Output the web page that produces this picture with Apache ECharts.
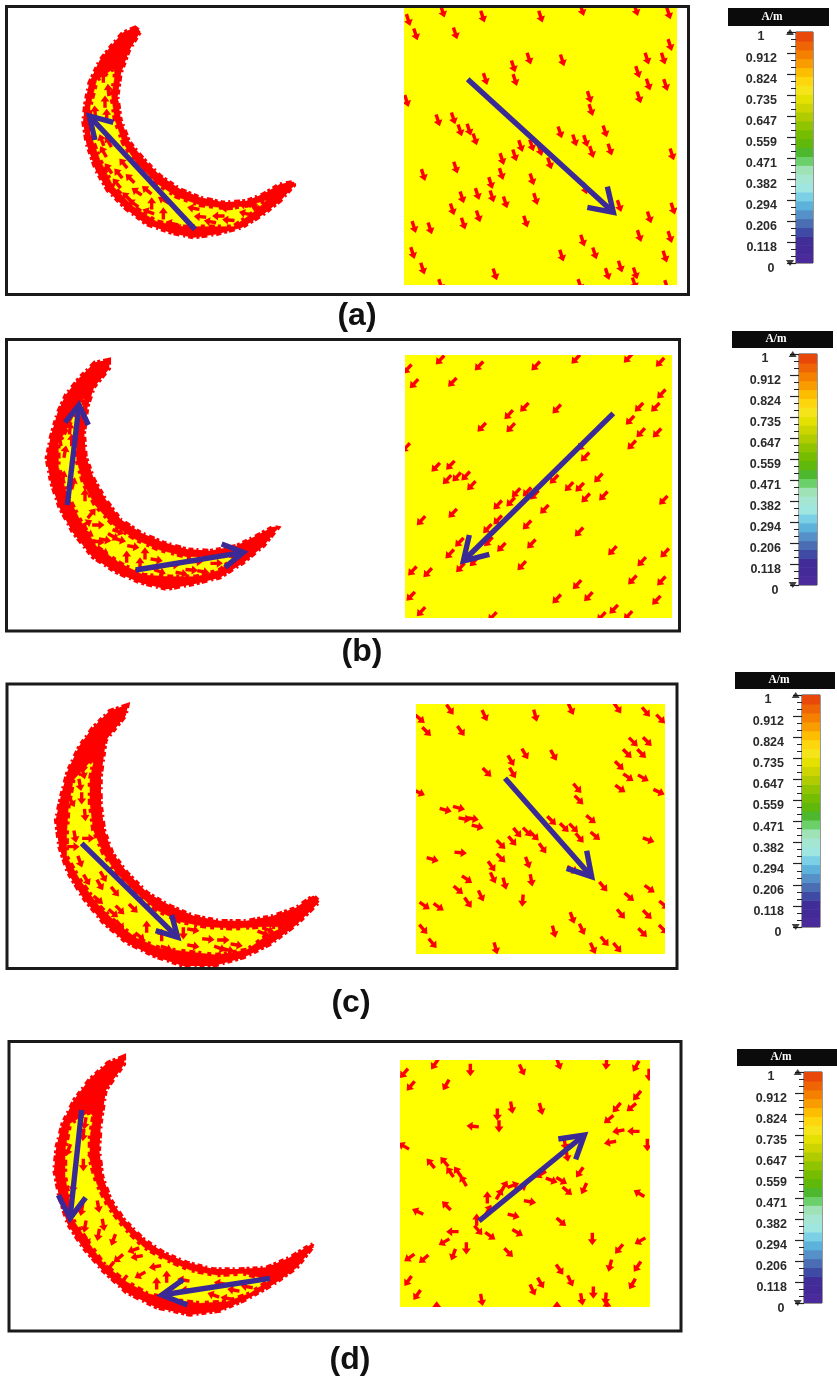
<!DOCTYPE html>
<html><head><meta charset="utf-8">
<style>html,body{margin:0;padding:0;background:#fff}#c{width:837px;height:1381px}</style>
<script src="https://cdn.jsdelivr.net/npm/echarts@6/dist/echarts.min.js"></script>
</head><body><div id="c"></div>
<script>
// ---------- data (units: reference pixels x3, relative to each panel's window) ----------
const headingA = 72, headingB = 133;
const fieldA = [[128,35],[248,50],[422,50],[546,30],[708,30],[806,40],[25,60],[47,103],[166,100],[810,135],[741,176],[790,176],[387,176],[487,181],[340,199],[713,216],[345,240],[256,237],[745,254],[797,255],[568,291],[717,292],[20,303],[573,330],[114,361],[160,355],[180,391],[207,389],[225,418],[480,397],[615,394],[524,421],[557,423],[575,456],[630,449],[362,438],[395,436],[420,450],[344,466],[306,477],[449,490],[816,463],[167,503],[304,522],[70,525],[396,538],[272,549],[232,582],[186,592],[276,589],[407,597],[316,607],[157,628],[658,618],[819,626],[235,649],[190,671],[377,665],[748,652],[42,681],[90,685],[718,708],[810,711],[548,722],[38,759],[485,767],[584,760],[795,770],[68,806],[661,800],[285,823],[706,820],[622,822],[122,855],[540,855],[703,850],[800,858],[555,565]];
const fieldB = [[120,45],[237,63],[407,63],[527,43],[684,40],[780,52],[22,72],[42,116],[157,112],[784,147],[373,187],[470,192],[717,187],[766,187],[326,209],[690,226],[245,247],[332,248],[722,263],[771,264],[695,300],[17,308],[545,302],[555,336],[107,367],[151,361],[141,404],[170,396],[197,393],[214,422],[462,403],[595,399],[507,425],[539,427],[557,459],[610,453],[348,443],[381,441],[403,450],[332,471],[293,480],[433,493],[790,466],[158,505],[293,525],[63,527],[381,540],[262,551],[178,592],[265,590],[394,597],[304,607],[149,627],[537,561],[637,617],[794,624],[222,650],[365,662],[181,668],[725,650],[37,678],[83,683],[697,705],[784,708],[531,719],[32,754],[470,762],[565,755],[769,766],[63,800],[641,793],[604,815],[684,812],[277,815]];
const fieldC = [[120,44,55],[224,62,65],[376,62,75],[483,43,65],[623,40,55],[708,51,50],[752,72,45],[30,72,40],[50,110,45],[153,108,55],[670,141,45],[712,140,45],[345,177,60],[431,181,60],[652,176,45],[695,176,45],[303,197,60],[628,212,45],[231,232,45],[308,234,60],[655,247,35],[700,249,30],[502,280,50],[631,281,35],[28,293,25],[747,291,25],[507,315,45],[107,345,15],[147,339,15],[164,372,10],[188,371,10],[203,395,15],[425,377,45],[543,373,40],[463,398,45],[491,399,45],[509,429,50],[556,423,40],[322,413,50],[352,411,45],[373,423,45],[307,438,50],[273,449,45],[398,460,55],[716,435,20],[152,473,5],[68,493,15],[273,489,45],[353,503,70],[245,514,55],[488,524,30],[249,549,65],[171,553,35],[284,566,75],[364,556,80],[145,585,40],[580,575,50],[658,606,40],[719,582,35],[213,603,65],[174,623,55],[338,617,95],[44,632,35],[86,636,35],[633,657,50],[712,659,45],[487,669,70],[40,703,50],[516,703,65],[698,713,45],[432,710,75],[760,703,45],[68,745,50],[257,760,75],[549,760,65],[584,739,50],[622,758,50],[762,630,40]];
const fieldD = [[119,43,125],[27,70,130],[226,60,90],[381,60,65],[491,42,70],[634,41,95],[723,49,120],[762,75,90],[47,108,130],[153,105,120],[726,137,130],[350,173,80],[438,177,75],[665,173,130],[709,172,140],[307,194,90],[641,208,140],[312,229,90],[233,229,185],[670,243,170],[715,244,180],[645,277,170],[26,288,210],[510,282,80],[516,317,80],[757,285,90],[107,340,230],[148,335,230],[554,367,125],[165,366,235],[188,365,235],[205,392,240],[437,373,150],[470,391,20],[500,392,30],[355,406,340],[328,408,300],[313,432,300],[277,442,270],[517,423,40],[567,416,115],[732,430,210],[380,413,330],[405,455,10],[154,467,225],[68,485,205],[280,480,300],[356,497,15],[499,516,40],[245,509,270],[250,541,50],[368,548,30],[172,545,180],[286,558,35],[147,576,150],[592,567,90],[735,573,150],[214,595,90],[672,597,130],[341,608,45],[175,614,110],[43,623,145],[86,627,140],[645,647,105],[727,650,125],[494,659,55],[526,693,65],[712,702,120],[39,693,125],[437,699,60],[413,720,65],[66,735,125],[260,750,80],[595,728,90],[560,748,80],[632,746,95],[125,772,270],[486,772,270],[636,770,270]];

const bigFieldA = [[203,238,640,637,622,560,562,622]];
const bigFieldB = [[640,205,190,648,208,570,268,628]];
const bigFieldC = [[285,250,545,545,530,467,470,520]];
const bigFieldD = [[252,513,568,255,490,267,542,328]];

const outlineA = [[405,85],[370,100],[335,140],[300,185],[270,250],[258,310],[252,365],[262,430],[290,510],[325,570],[380,625],[440,670],[510,695],[580,710],[650,700],[725,680],[790,640],[840,600],[880,555],[880,548],[840,555],[790,585],[740,605],[670,610],[600,595],[540,570],[480,530],[430,480],[385,425],[360,360],[350,290],[360,220],[385,150],[418,95]];
const coreA = [[342,205],[290,240],[270,320],[270,400],[300,480],[340,560],[400,620],[470,665],[550,680],[620,680],[700,680],[770,630],[800,600],[750,615],[680,625],[600,615],[530,590],[470,550],[410,490],[370,430],[345,360],[335,290],[345,225]];
const cellsA = [[310,230,270],[325,270,265],[315,305,270],[345,310,260],[285,335,265],[320,345,270],[305,420,250],[325,425,240],[310,455,240],[370,490,230],[325,505,235],[355,520,230],[390,535,225],[350,550,230],[410,575,215],[380,590,225],[400,610,215],[440,570,220],[445,635,200],[490,600,210],[515,670,195],[580,625,190],[600,650,185],[655,648,180],[685,660,185],[630,665,190],[735,640,195],[770,625,200],[490,640,270],[455,610,270],[540,685,200],[420,640,210],[680,625,180],[735,615,190]];
const bigCresA = [[585,688,268,348,340,367,285,420]];

const outlineB = [[235,32],[195,40],[150,85],[110,135],[85,190],[65,260],[52,325],[65,395],[90,470],[130,545],[190,620],[260,665],[330,695],[410,715],[490,700],[570,680],[640,635],[700,585],[740,535],[730,533],[680,560],[620,590],[540,605],[470,600],[400,580],[330,550],[270,510],[225,450],[190,390],[165,320],[160,250],[170,170],[190,110],[235,55]];
const coreB = [[155,145],[120,220],[85,280],[85,350],[110,430],[150,510],[200,590],[270,640],[340,675],[420,680],[500,680],[570,660],[620,615],[550,620],[470,620],[390,600],[320,570],[250,525],[195,465],[160,400],[140,330],[140,260],[150,200],[165,150]];
const cellsB = [[120,235,275],[125,270,270],[90,270,260],[105,305,280],[100,380,280],[130,400,285],[165,435,270],[120,490,300],[185,490,310],[170,520,330],[205,525,0],[140,530,320],[265,545,20],[250,560,30],[205,575,10],[225,570,10],[175,550,30],[270,570,15],[310,590,10],[245,630,20],[290,620,270],[330,640,270],[380,630,10],[345,610,270],[430,645,0],[485,660,5],[520,665,10],[560,640,0],[455,670,10],[390,665,20],[220,605,30],[500,635,0]];
const bigCresB = [[112,465,147,165,105,217,175,225],[317,660,640,607,575,582,585,652]];

const outlineC = [[260,18],[210,35],[160,85],[120,140],[85,215],[65,290],[50,360],[60,440],[85,515],[130,590],[190,665],[260,725],[340,765],[430,795],[520,795],[610,770],[690,730],[770,670],[835,605],[820,590],[770,625],[700,650],[620,665],[540,665],[460,650],[390,620],[320,580],[260,520],[215,460],[190,390],[180,310],[180,230],[195,120],[255,45]];
const coreC = [[155,180],[100,240],[85,320],[80,400],[80,470],[120,540],[170,610],[230,670],[290,715],[360,745],[440,755],[530,765],[620,750],[690,700],[735,680],[660,680],[580,685],[500,680],[420,665],[350,630],[290,580],[230,520],[190,460],[160,390],[150,310],[150,240],[160,190]];
const cellsC = [[130,220,75],[120,255,80],[125,295,90],[95,305,60],[135,345,85],[105,410,80],[100,440,0],[120,485,70],[145,415,0],[140,540,60],[190,530,60],[180,555,60],[225,575,50],[280,625,45],[240,630,45],[220,640,40],[240,675,50],[175,600,40],[300,710,40],[320,680,270],[380,745,20],[460,738,10],[505,718,5],[550,720,0],[565,750,15],[590,735,10],[460,690,10],[540,745,20],[365,705,270],[685,690,20],[430,700,90],[670,700,20]];
const bigCresC = [[125,430,413,712,395,645,347,692]];

const outlineD = [[250,22],[205,40],[150,90],[105,150],[70,220],[52,290],[45,360],[60,440],[85,520],[130,590],[190,660],[260,725],[350,770],[450,792],[540,780],[620,745],[700,700],[770,650],[820,585],[810,588],[750,625],[680,655],[600,660],[520,660],[440,640],[370,610],[310,570],[250,510],[210,450],[185,380],[175,300],[180,220],[195,120],[250,42]];
const coreD = [[150,185],[90,220],[75,300],[75,380],[90,460],[100,510],[140,570],[190,640],[250,690],[320,730],[400,750],[480,760],[560,755],[630,730],[690,690],[610,670],[530,675],[450,660],[370,625],[310,590],[255,535],[205,470],[170,400],[150,330],[150,260],[160,200]];
const cellsD = [[135,220,100],[130,255,95],[85,300,110],[130,345,90],[155,315,90],[100,410,100],[175,470,80],[125,480,100],[135,530,100],[190,525,80],[175,555,100],[220,570,110],[140,570,60],[280,600,160],[235,625,140],[210,650,130],[250,690,130],[300,675,150],[345,650,170],[290,620,170],[350,700,270],[380,680,270],[430,690,190],[560,745,190],[520,735,200],[580,720,190],[440,720,180],[620,710,190],[540,700,190],[710,680,200]];
const bigCresD = [[125,180,90,505,55,435,137,443],[690,685,365,735,430,688,442,765]];

const scaleLabels = ['0','0.118','0.206','0.294','0.382','0.471','0.559','0.647','0.735','0.824','0.912','1'];
const scaleColors = ['#4b2a9c','#442a98','#412d98','#3f4aa4','#4b6db4','#5690c9','#5cb2da','#7cd0e6','#a0e6e0','#a5e6d2','#9ee2b6','#6bd06a','#4db82e','#5fb80a','#76bc00','#90c400','#b0cc00','#cdd500','#e4e000','#f5e41a','#fdd60e','#fdbd00','#f99c00','#f58000','#ef6404','#e8480a'];
const captions = ['(a)','(b)','(c)','(d)'];
const unitLabel = 'A/m';

// ---------- chart plumbing ----------
const RED='#ff0000', YEL='#ffff00', BLUE='#3b2a96';
const grid=[],xAxis=[],yAxis=[],series=[],graphic=[];
function plane(l,t,w,h,x0,x1,y0,y1,bg){
  const i=grid.length;
  grid.push({left:l,top:t,width:w,height:h,show:!!bg,backgroundColor:bg||'transparent',borderWidth:0,containLabel:false});
  xAxis.push({type:'value',gridIndex:i,min:x0,max:x1,show:false});
  yAxis.push({type:'value',gridIndex:i,min:y0,max:y1,inverse:true,show:false});
  return i;
}
function smallArrow(params,api){
  const c=api.coord([api.value(0),api.value(1)]);
  const a=api.value(2)*Math.PI/180, ux=Math.cos(a), uy=Math.sin(a), L=6.2, hl=6, sw=1.7, hw=4.5;
  const P=(s,n)=>[c[0]+ux*s-uy*n,c[1]+uy*s+ux*n];
  return {type:'polygon',shape:{points:[P(-L,-sw),P(L-hl,-sw),P(L-hl,-hw),P(L,0),P(L-hl,hw),P(L-hl,sw),P(-L,sw)]},style:{fill:RED}};
}
function bigArrow(params,api){
  const p=i=>api.coord([api.value(i),api.value(i+1)]);
  const st={stroke:BLUE,lineWidth:5.4,fill:null,lineJoin:'miter',lineCap:'butt',miterLimit:10};
  return {type:'group',children:[
    {type:'line',shape:{x1:p(0)[0],y1:p(0)[1],x2:p(2)[0],y2:p(2)[1]},style:st},
    {type:'polyline',shape:{points:[p(4),p(2),p(6)]},style:st}]};
}
function addArrows(i,data,clip){
  series.push({type:'custom',xAxisIndex:i,yAxisIndex:i,clip:clip,silent:true,data:data,encode:{x:0,y:1},renderItem:smallArrow,animation:false});
}
function addBig(i,data,clip){
  series.push({type:'custom',xAxisIndex:i,yAxisIndex:i,clip:clip,silent:true,data:data,encode:{x:[0,2,4,6],y:[1,3,5,7]},renderItem:bigArrow,animation:false});
}
function addBlob(i,pts,fill,solid,teeth,dash){
  series.push({type:'custom',xAxisIndex:i,yAxisIndex:i,silent:true,data:pts,encode:{x:0,y:1},animation:false,
    renderItem:function(params,api){
      if(params.dataIndex!==0) return null;
      const poly=pts.map(q=>api.coord(q));
      return {type:'group',children:[
        {type:'polygon',shape:{points:poly},style:{fill:fill,stroke:RED,lineWidth:solid,lineJoin:'round'}},
        {type:'polygon',shape:{points:poly},style:{fill:null,stroke:RED,lineWidth:teeth,lineDash:dash}}]};
    }});
}
function panel(cfg){
  graphic.push({type:'rect',shape:{x:cfg.frame[0],y:cfg.frame[1],width:cfg.frame[2]-cfg.frame[0],height:cfg.frame[3]-cfg.frame[1]},style:{fill:null,stroke:'#1a1a1a',lineWidth:3},z:50});
  const c=cfg.crop; const ci=plane(c[0],c[1],c[2],c[3],0,c[2]*3,0,c[3]*3);
  addBlob(ci,cfg.outline,RED,2,5.5,[5,3,3,2,6,4,2,3]);
  addBlob(ci,cfg.core,YEL,0.5,4.5,[4,4,6,3,3,6]);
  addArrows(ci,cfg.cells,false);
  addBig(ci,cfg.bigCres,false);
  const s=cfg.square, o=cfg.fieldOrigin;
  const fi=plane(s[0],s[1],s[2]-s[0],s[3]-s[1],(s[0]-o[0])*3,(s[2]-o[0])*3,(s[1]-o[1])*3,(s[3]-o[1])*3,YEL);
  addArrows(fi,cfg.field,true);
  addBig(fi,cfg.bigField,false);
  // colour bar with its ticks
  const b=cfg.bar; const idx=grid.length;
  grid.push({left:b[0],top:b[1]+1,width:b[2],height:b[3]-2,show:true,borderColor:'#333',borderWidth:1,backgroundColor:'transparent'});
  xAxis.push({type:'value',gridIndex:idx,min:0,max:1,show:false});
  yAxis.push({type:'value',gridIndex:idx,min:0,max:scaleLabels.length-1,interval:1,position:'left',
    axisLine:{show:false},splitLine:{show:false},
    axisTick:{show:true,length:9,lineStyle:{color:'#222',width:1.2}},
    minorTick:{show:true,splitNumber:3,length:5,lineStyle:{color:'#222',width:1}},
    axisLabel:{show:false}});
  // tick labels sit slightly below their ticks in the reference, so they get their own axis
  const lab=grid.length;
  grid.push({left:b[0],top:b[1]+6,width:b[2],height:b[3]-1,show:false});
  xAxis.push({type:'value',gridIndex:lab,min:0,max:1,show:false});
  yAxis.push({type:'value',gridIndex:lab,min:0,max:scaleLabels.length-1,interval:1,position:'left',
    axisLine:{show:false},axisTick:{show:false},splitLine:{show:false},
    axisLabel:{show:true,margin:cfg.labelMargin,color:'#2a2a2a',fontFamily:'Liberation Sans',fontWeight:'bold',fontSize:12.5,showMinLabel:true,showMaxLabel:true,
      formatter:function(v){const t=scaleLabels[v]; return t==='1'?t+'\u2002\u2002':(t==='0'?t+'\u2009':t);}}});
  series.push({type:'custom',xAxisIndex:idx,yAxisIndex:idx,silent:true,animation:false,clip:true,z:1,
    data:scaleColors.map((col,k)=>[k]),encode:{y:0},
    renderItem:function(params,api){
      const k=api.value(0), n=scaleColors.length, top=scaleLabels.length-1;
      const a=api.coord([0,k*top/n]), d=api.coord([1,(k+1)*top/n]);
      return {type:'rect',shape:{x:a[0],y:d[1],width:d[0]-a[0],height:a[1]-d[1]+0.6},style:{fill:scaleColors[k]}};
    }});
  series.push({type:'scatter',xAxisIndex:idx,yAxisIndex:idx,silent:true,animation:false,clip:false,symbol:'triangle',symbolSize:[8,6],
    itemStyle:{color:'#111'},data:[{value:[-0.35,0],symbolRotate:180},{value:[-0.35,scaleLabels.length-1]}]});
  const h=cfg.header;
  graphic.push({type:'rect',shape:{x:h[0],y:h[1],width:h[2]-h[0],height:h[3]-h[1]},style:{fill:'#0b0b0b'},z:50});
  graphic.push({type:'text',x:h[0]+44,y:(h[1]+h[3])/2,style:{text:unitLabel,fill:'#fff',font:'bold 11.5px "Liberation Serif"',align:'center',verticalAlign:'middle'},z:51});
  graphic.push({type:'text',x:cfg.caption[0],y:cfg.caption[1],style:{text:cfg.label,fill:'#111',font:'bold 32px "Liberation Sans"',align:'center',verticalAlign:'middle'},z:51});
}
panel({frame:[6.5,6.5,688.5,294.5],crop:[0,0,400,310],outline:outlineA,core:coreA,cells:cellsA,bigCres:bigCresA,square:[404,8,677,285],fieldOrigin:[400,0],field:fieldA.map(p=>[p[0],p[1],headingA]),bigField:bigFieldA,bar:[796,31,17,233],labelMargin:19,header:[728,8,829,26],caption:[357,316],label:captions[0]});
panel({frame:[6.5,339.5,679.5,631],crop:[30,350,260,250],outline:outlineB,core:coreB,cells:cellsB,bigCres:bigCresB,square:[405,355,672,618],fieldOrigin:[400,345],field:fieldB.map(p=>[p[0],p[1],headingB]),bigField:bigFieldB,bar:[799,353,18,233],labelMargin:18,header:[732,331,833,348],caption:[362,652],label:captions[1]});
panel({frame:[7,684,677,968.5],crop:[40,700,290,270],outline:outlineC,core:coreC,cells:cellsC,bigCres:bigCresC,square:[416,704,665,954],fieldOrigin:[410,695],field:fieldC,bigField:bigFieldC,bar:[802,694,18,234],labelMargin:18,header:[735,672,835,689],caption:[351,1003],label:captions[2]});
panel({frame:[9,1041.5,681,1331],crop:[40,1050,290,270],outline:outlineD,core:coreD,cells:cellsD,bigCres:bigCresD,square:[400,1060,650,1307],fieldOrigin:[395,1050],field:fieldD,bigField:bigFieldD,bar:[804,1071,18,233],labelMargin:17,header:[737,1049,837,1066],caption:[350,1360],label:captions[3]});

const chart=echarts.init(document.getElementById('c'),null,{renderer:'canvas',width:837,height:1381});
chart.setOption({backgroundColor:'#fff',animation:false,tooltip:{show:false},grid,xAxis,yAxis,series,graphic:{elements:graphic}});
</script></body></html>
